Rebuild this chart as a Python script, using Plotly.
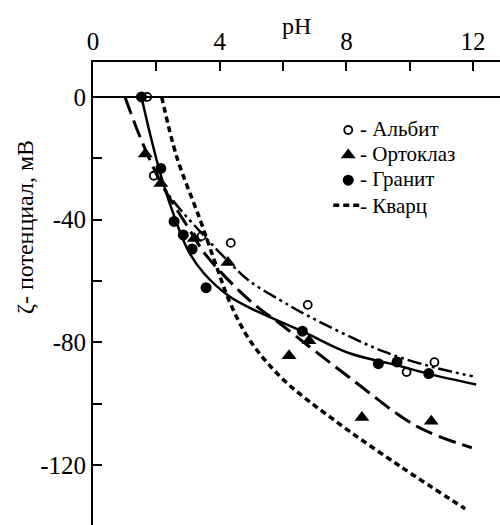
import plotly.graph_objects as go

# ---- measured points ----
albite_ph = [1.71, 1.92, 3.43, 4.35, 6.78, 9.9, 10.78]
albite_z = [0, -25.7, -45.4, -47.6, -67.8, -89.7, -86.5]

orthoclase_ph = [1.65, 2.14, 3.2, 4.26, 6.19, 6.82, 8.49, 10.68]
orthoclase_z = [-18.6, -28.2, -46.2, -54.0, -84.4, -79.5, -104.5, -105.8]

granite_ph = [1.53, 2.14, 2.56, 2.85, 3.13, 3.57, 6.61, 9.01, 9.6, 10.6]
granite_z = [0, -23.3, -40.6, -45.0, -49.6, -62.2, -76.4, -87.0, -86.4, -90.2]

# ---- fitted curves ----
granite_curve_ph = [1.53, 1.8, 2.1, 2.5, 3.0, 3.5, 4.3, 5.0, 6.6, 8.1, 9.6, 10.6, 12.1]
granite_curve_z = [0, -12, -24, -37, -50, -57.5, -65, -69, -76.4, -83.6, -87.5, -90.3, -93.8]

orthoclase_curve_ph = [1.01, 1.48, 2.15, 3.0, 3.6, 4.96, 6.01, 8.11, 10.22, 11.96]
orthoclase_curve_z = [0, -12.9, -28.1, -42.5, -52, -66.5, -74.8, -91.6, -107.4, -114.4]

albite_curve_ph = [2.0, 2.43, 3.48, 4.33, 4.96, 5.9, 6.75, 9.17, 10.85, 11.99]
albite_curve_z = [-25, -32.5, -45, -54.2, -60.2, -66.2, -71.2, -83, -88.4, -91.1]

quartz_curve_ph = [2.17, 2.64, 3.38, 3.9, 4.33, 4.96, 6.01, 7.59, 9.69, 11.75]
quartz_curve_z = [0, -19.4, -40, -55.3, -67.2, -79.5, -92.2, -105.2, -120.4, -134.3]

x_top_ticks = [0, 2, 4, 6, 8, 10, 12]
x_top_labels = ["0", "", "4", "", "8", "", "12"]
y_ticks = [0, -20, -40, -60, -80, -100, -120]
y_labels = ["0", "", "-40", "", "-80", "", "-120"]

legend_labels = ["- Альбит", "- Ортоклаз", "- Гранит", "- Кварц"]

FONT = "Liberation Serif"
K = "black"

fig = go.Figure()

fig.add_trace(go.Scatter(x=albite_curve_ph, y=albite_curve_z, mode="lines",
                         line=dict(color=K, width=2.5, shape="spline",
                                   dash="14px,4px,3px,4px,3px,4px"),
                         showlegend=False, hoverinfo="skip"))
fig.add_trace(go.Scatter(x=orthoclase_curve_ph, y=orthoclase_curve_z, mode="lines",
                         line=dict(color=K, width=3, shape="spline", dash="18px,7px"),
                         showlegend=False, hoverinfo="skip"))
fig.add_trace(go.Scatter(x=granite_curve_ph, y=granite_curve_z, mode="lines",
                         line=dict(color=K, width=2.5, shape="spline"),
                         showlegend=False, hoverinfo="skip"))

# legend symbols come from the plotly legend; legend texts are drawn as annotations
fig.add_trace(go.Scatter(x=albite_ph, y=albite_z, mode="markers", name=" ",
                         marker=dict(symbol="circle-open", size=8, color=K,
                                     line=dict(width=1.8, color=K))))
fig.add_trace(go.Scatter(x=orthoclase_ph, y=orthoclase_z, mode="markers", name=" ",
                         marker=dict(symbol="triangle-up", size=13, color=K)))
fig.add_trace(go.Scatter(x=granite_ph, y=granite_z, mode="markers", name=" ",
                         marker=dict(symbol="circle", size=11, color=K)))
fig.add_trace(go.Scatter(x=quartz_curve_ph, y=quartz_curve_z, mode="lines", name=" ",
                         line=dict(color=K, width=3.5, shape="spline", dash="6px,4px")))

tickfont = dict(family=FONT, size=25, color=K)

fig.update_layout(
    width=500, height=525,
    margin=dict(l=93, r=0, t=62, b=0, autoexpand=False),
    paper_bgcolor="white", plot_bgcolor="white",
    font=dict(family=FONT, size=24, color=K),
    xaxis=dict(range=[0, 12.85], side="top", automargin=False,
               tickmode="array", tickvals=x_top_ticks, ticktext=x_top_labels,
               tickfont=tickfont,
               ticks="inside", ticklen=9, tickwidth=2, tickcolor=K,
               showline=True, linewidth=2, linecolor=K,
               showgrid=False, zeroline=False),
    xaxis2=dict(range=[0, 12.85], overlaying="x", side="bottom", anchor="y",
                automargin=False,
                tickmode="array", tickvals=[2, 4, 6, 8, 10, 12],
                ticks="inside", ticklen=8, tickwidth=2, tickcolor=K,
                showticklabels=False, showline=False, showgrid=False, zeroline=False),
    yaxis=dict(range=[-139.6, 11.4], automargin=False,
               tickmode="array", tickvals=y_ticks, ticktext=y_labels,
               tickfont=tickfont,
               ticks="inside", ticklen=9, tickwidth=2, tickcolor=K,
               showline=True, linewidth=2, linecolor=K,
               showgrid=False, zeroline=True, zerolinewidth=2, zerolinecolor=K),
    yaxis2=dict(range=[-139.6, 11.4], overlaying="y", side="right", anchor="x",
                automargin=False,
                tickmode="array", tickvals=y_ticks[1:],
                ticks="inside", ticklen=8, tickwidth=2, tickcolor=K,
                showticklabels=False, showline=False, showgrid=False, zeroline=False),
    legend=dict(x=0.578, y=0.891, xanchor="left", yanchor="top",
                font=dict(family=FONT, size=17, color=K),
                itemclick=False, itemdoubleclick=False,
                bgcolor="rgba(0,0,0,0)", borderwidth=0, tracegroupgap=0),
    showlegend=True,
)

# axis titles
fig.add_annotation(text="pH", xref="paper", yref="paper", x=0.5, y=1.078,
                   xanchor="center", yanchor="middle", showarrow=False,
                   font=dict(family=FONT, size=24, color=K))
fig.add_annotation(text="ζ- потенциал, мВ", textangle=-90,
                   xref="paper", yref="paper", x=-0.167, y=0.6436,
                   xanchor="center", yanchor="middle", showarrow=False,
                   font=dict(family=FONT, size=24, color=K))

# legend texts
legend_text_y = [0.8553, 0.8013, 0.7473, 0.6890]
for lbl, ly in zip(legend_labels, legend_text_y):
    fig.add_annotation(text=lbl, xref="paper", yref="paper", x=0.651, y=ly,
                       xanchor="left", yanchor="middle", showarrow=False,
                       font=dict(family=FONT, size=21, color=K))

fig.write_html("out.html", config={"displayModeBar": False},
               post_script="document.body.style.margin='0';")
